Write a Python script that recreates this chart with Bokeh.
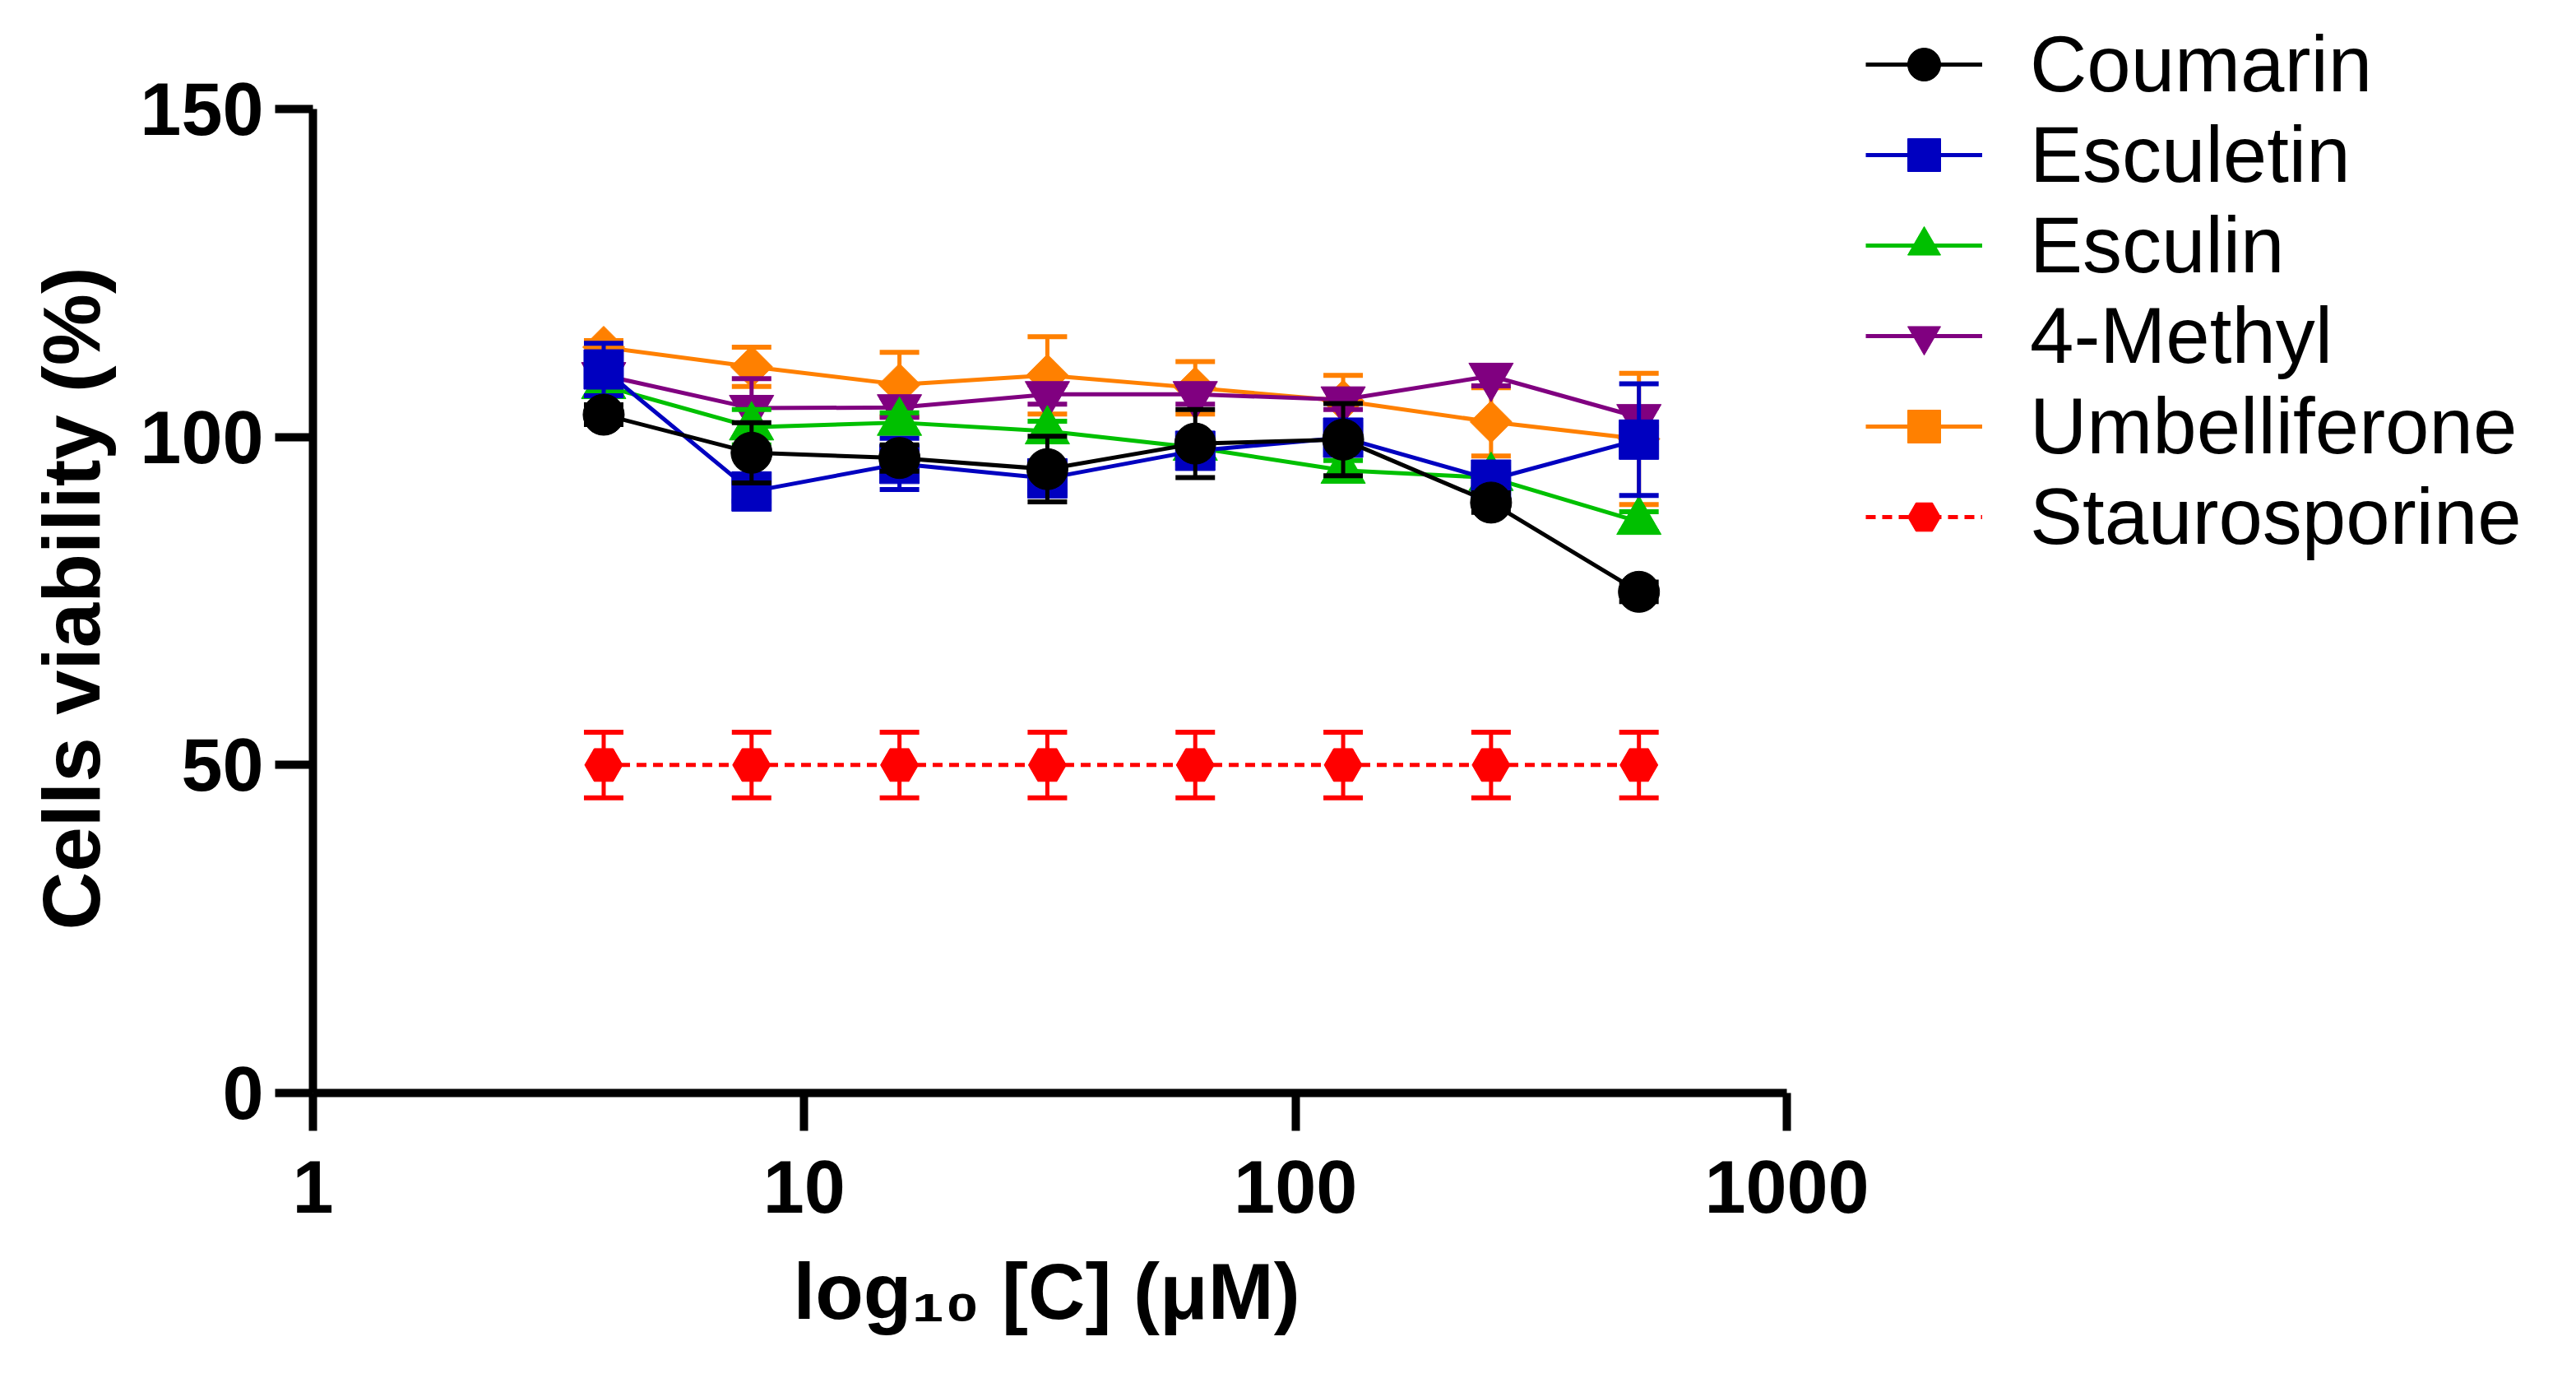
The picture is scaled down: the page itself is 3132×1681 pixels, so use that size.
import numpy as np
from bokeh.plotting import figure
from bokeh.models import (Range1d, FixedTicker, BasicTickFormatter, Legend,
                          LegendItem, Title)
from bokeh.embed import file_html
from bokeh.resources import INLINE

# concentrations (uM), two-fold serial dilution
conc = [3.90625, 7.8125, 15.625, 31.25, 62.5, 125, 250, 500]

coumarin = [103.4, 97.6, 96.8, 95.1, 99.0, 99.6, 90.0, 76.4]
coumarin_err = [1.5, 4.6, 2.0, 5.0, 5.2, 5.5, 1.5, 1.5]
esculetin = [110.3, 91.7, 95.9, 93.7, 97.9, 99.9, 93.5, 99.6]
esculetin_err = [4.0, 1.5, 3.9, 2.0, 2.0, 2.0, 1.5, 8.5]
esculin = [107.8, 101.5, 102.2, 100.9, 98.4, 94.9, 93.8, 87.1]
esculin_err = [1.5, 2.7, 1.5, 1.5, 1.5, 1.5, 1.5, 1.5]
methyl = [109.4, 104.4, 104.5, 106.5, 106.5, 105.7, 109.3, 103.0]
methyl_err = [1.5, 4.5, 1.5, 1.5, 1.5, 1.5, 1.5, 1.5]
umbelliferone = [113.7, 110.7, 108.0, 109.4, 107.5, 105.5, 102.3, 99.7]
umbelliferone_err = [1.0, 3.0, 4.9, 5.9, 4.0, 3.9, 5.2, 10.0]
staurosporine = [50, 50, 50, 50, 50, 50, 50, 50]
staurosporine_err = [5, 5, 5, 5, 5, 5, 5, 5]

y_ticks = [0, 50, 100, 150]
x_ticks = [1, 10, 100, 1000]

FONT = "Liberation Sans"
W, H = 3116, 1673

# the visible axes span x 1..1000 and y 0..150; the frame is made larger so
# the legend (which sits outside the axes) lies inside it
ax_left, ax_right, ax_top, ax_bottom = 380, 2172, 132, 1328
fr_top, fr_right = 10, 3106
x_end = 10 ** (3 * (fr_right - ax_left) / (ax_right - ax_left))
y_end = 150 * (ax_bottom - fr_top) / (ax_bottom - ax_top)

p = figure(width=W, height=H, x_axis_type="log",
           x_range=Range1d(1, x_end), y_range=Range1d(0, y_end),
           output_backend="svg", toolbar_location=None,
           min_border_left=ax_left, min_border_top=fr_top,
           min_border_right=W - fr_right, min_border_bottom=H - ax_bottom)
p.outline_line_color = None
p.grid.visible = False

# series: name, values, errors, colour, marker, size, angle, dash
series = [
    ("Coumarin", coumarin, coumarin_err, "#000000", "circle", 50, 0, "solid"),
    ("Esculetin", esculetin, esculetin_err, "#0000C0", "square", 48, 0, "solid"),
    ("Esculin", esculin, esculin_err, "#00C000", "triangle", 54, 0, "solid"),
    ("4-Methyl", methyl, methyl_err, "#800080", "inverted_triangle", 54, 0, "solid"),
    ("Umbelliferone", umbelliferone, umbelliferone_err, "#FF8000", "square", 36, np.pi / 4, "solid"),
    ("Staurosporine", staurosporine, staurosporine_err, "#FF0000", "hex", 46, 0, "12 8"),
]

items = {}
for name, vals, err, color, marker, size, angle, dash in reversed(series):
    lo = [v - e for v, e in zip(vals, err)]
    hi = [v + e for v, e in zip(vals, err)]
    p.segment(x0=conc, y0=lo, x1=conc, y1=hi, line_color=color, line_width=5)
    p.scatter(x=conc, y=hi, marker="dash", size=48, line_color=color, line_width=6)
    p.scatter(x=conc, y=lo, marker="dash", size=48, line_color=color, line_width=6)
    ln = p.line(conc, vals, line_color=color, line_width=5, line_dash=dash)
    mk = p.scatter(conc, vals, marker=marker, size=size, angle=angle,
                   fill_color=color, line_color=color, line_width=1)
    items[name] = [ln, mk]

legend = Legend(items=[LegendItem(label=s[0], renderers=items[s[0]]) for s in series],
                location=(1888, 645))
legend.label_text_font = FONT
legend.label_text_font_size = "96px"
legend.label_text_color = "black"
legend.glyph_width = 142
legend.glyph_height = 100
legend.label_height = 106
legend.label_standoff = 58
legend.spacing = 0
legend.padding = 0
legend.margin = 0
legend.border_line_color = None
legend.background_fill_alpha = 0
p.add_layout(legend)

for ax in (p.xaxis, p.yaxis):
    ax.axis_line_width = 10
    ax.major_tick_line_width = 10
    ax.major_tick_out = 46
    ax.major_tick_in = 0
    ax.minor_tick_line_color = None
    ax.major_label_text_font = FONT
    ax.major_label_text_font_style = "bold"
    ax.major_label_text_font_size = "90px"
    ax.major_label_text_color = "black"

p.yaxis.ticker = FixedTicker(ticks=y_ticks)
p.yaxis.bounds = (0, 150)
p.yaxis.major_label_standoff = 14

p.xaxis.ticker = FixedTicker(ticks=x_ticks, minor_ticks=[])
p.xaxis.bounds = (1, 1000)
p.xaxis.formatter = BasicTickFormatter(use_scientific=False)
p.xaxis.major_label_standoff = 36

p.add_layout(Title(text="log₁₀ [C] (μM)", align="left", offset=584,
                   vertical_align="top", standoff=78, text_font=FONT,
                   text_font_style="bold", text_font_size="96px",
                   text_color="black"), "below")
p.add_layout(Title(text="Cells viability (%)", align="left", offset=198,
                   standoff=52, text_font=FONT, text_font_style="bold",
                   text_font_size="98px", text_color="black"), "left")

open("out.html", "w").write(file_html(p, INLINE))
